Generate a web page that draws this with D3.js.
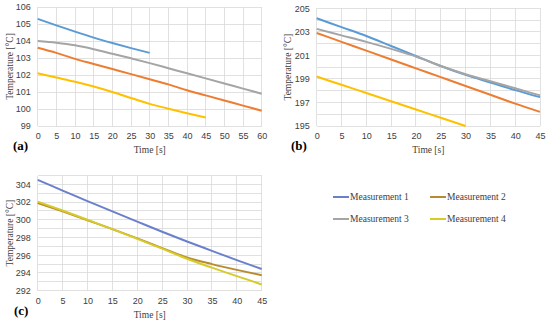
<!DOCTYPE html>
<html>
<head>
<script src="https://d3js.org/d3.v7.min.js"></script>
<style>
  body { margin: 0; background: #fff; }
  svg { font-family: "Liberation Serif", "Times New Roman", serif; }
  .tick text { font-size: 9px; fill: #404040; }
  .grid line { stroke: #d9d9d9; stroke-width: 0.8; shape-rendering: crispEdges; }
  .axis-title { font-size: 9.5px; fill: #404040; }
  .panel-label { font-size: 13px; font-weight: bold; fill: #000; }
  .legend text { font-size: 9.5px; fill: #404040; }
</style>
</head>
<body>
<div id="chart"></div>
<script>
const seriesNames = ["Measurement 1", "Measurement 2", "Measurement 3", "Measurement 4"];

// panel (a)
const timeA = [0, 5, 10, 15, 20, 25, 30, 35, 40, 45, 50, 55, 60];
const a1 = [105.3, 104.92, 104.55, 104.2, 103.88, 103.58, 103.3];
const a2 = [103.6, 103.3, 102.95, 102.65, 102.35, 102.05, 101.75, 101.45, 101.1, 100.8, 100.5, 100.2, 99.9];
const a3 = [104.0, 103.9, 103.75, 103.52, 103.25, 102.98, 102.7, 102.4, 102.1, 101.8, 101.5, 101.2, 100.9];
const a4 = [102.1, 101.85, 101.6, 101.32, 101.0, 100.65, 100.3, 100.02, 99.75, 99.5];

// panel (b)
const timeB = [0, 5, 10, 15, 20, 25, 30, 35, 40, 45];
const b1 = [204.15, 203.4, 202.65, 201.8, 200.95, 200.1, 199.35, 198.7, 198.05, 197.45];
const b2 = [202.9, 202.15, 201.4, 200.65, 199.9, 199.15, 198.4, 197.65, 196.9, 196.2];
const b3 = [203.25, 202.7, 202.15, 201.55, 200.9, 200.1, 199.4, 198.8, 198.2, 197.6];
const b4 = [199.2, 198.5, 197.8, 197.1, 196.4, 195.7, 195.0];

// panel (c)
const timeC = [0, 5, 10, 15, 20, 25, 30, 35, 40, 45];
const c1 = [304.5, 303.3, 302.1, 300.95, 299.8, 298.65, 297.55, 296.5, 295.45, 294.45];
const c2 = [301.9, 300.95, 299.95, 298.95, 297.9, 296.8, 295.75, 295.0, 294.35, 293.75];
const c4 = [302.05, 301.05, 300.0, 298.95, 297.85, 296.75, 295.6, 294.6, 293.65, 292.7];

const ticksA = [99, 100, 101, 102, 103, 104, 105, 106];
const ticksB = [195, 197, 199, 201, 203, 205];
const ticksC = [292, 294, 296, 298, 300, 302, 304];

const colorsAB = ["#5b9bd5", "#ed7d31", "#a5a5a5", "#ffc000"];
const colorsC = ["#6b80cc", "#b98b30", "#a5a5a5", "#d6cb2a"];

const svg = d3.select("#chart").append("svg")
  .attr("width", 550)
  .attr("height", 325);

const panels = [
  { label: "(a)", left: 37.7, top: 7, width: 224, height: 119, xMax: 60, yDomain: [99, 106],
    yTicks: ticksA, time: timeA, series: [a1, a2, a3, a4], colors: colorsAB, labelX: 13, titleX: 10 },
  { label: "(b)", left: 316.7, top: 8.3, width: 223.3, height: 117.7, xMax: 45, yDomain: [195, 205],
    yTicks: ticksB, time: timeB, series: [b1, b2, b3, b4], colors: colorsAB, labelX: 291, titleX: 288 },
  { label: "(c)", left: 37.7, top: 175.5, width: 224, height: 115.2, xMax: 45, yDomain: [292, 305],
    yTicks: ticksC, time: timeC, series: [c1, c2, null, c4], colors: colorsC, labelX: 14, titleX: 10 }
];

panels.forEach(p => {
  const g = svg.append("g").attr("transform", `translate(${p.left},${p.top})`);

  const x = d3.scaleLinear().domain([0, p.xMax]).range([0, p.width]);
  const y = d3.scaleLinear().domain(p.yDomain).range([p.height, 0]);

  // grid, every 5 s and every 1 degree
  const grid = g.append("g").attr("class", "grid");
  grid.selectAll(".v").data(d3.range(0, p.xMax + 1, 5)).enter().append("line")
    .attr("x1", d => x(d)).attr("x2", d => x(d))
    .attr("y1", 0).attr("y2", p.height);
  grid.selectAll(".h").data(d3.range(p.yDomain[0], p.yDomain[1] + 1, 1)).enter().append("line")
    .attr("x1", 0).attr("x2", p.width)
    .attr("y1", d => y(d)).attr("y2", d => y(d));

  // axes
  g.append("g")
    .attr("transform", `translate(0,${p.height})`)
    .call(d3.axisBottom(x).tickValues(d3.range(0, p.xMax + 1, 5)).tickSize(0).tickPadding(7))
    .call(a => a.select(".domain").remove());
  g.append("g")
    .call(d3.axisLeft(y).tickValues(p.yTicks).tickFormat(d3.format("d")).tickSize(0).tickPadding(7))
    .call(a => a.select(".domain").remove());

  // lines
  const line = d3.line()
    .x((d, i) => x(p.time[i]))
    .y(d => y(d))
    .curve(d3.curveMonotoneX);

  p.series.forEach((s, i) => {
    if (!s) return;
    g.append("path")
      .datum(s)
      .attr("fill", "none")
      .attr("stroke", p.colors[i])
      .attr("stroke-width", 2)
      .attr("d", line);
  });

  // titles
  g.append("text")
    .attr("class", "axis-title")
    .attr("text-anchor", "middle")
    .attr("x", p.width / 2)
    .attr("y", p.height + 27)
    .text("Time [s]");

  g.append("text")
    .attr("class", "axis-title")
    .attr("text-anchor", "middle")
    .attr("transform", "rotate(-90)")
    .attr("x", -p.height / 2)
    .attr("y", p.titleX - p.left + 3)
    .text("Temperature [°C]");

  svg.append("text")
    .attr("class", "panel-label")
    .attr("x", p.labelX)
    .attr("y", p.top + p.height + 24)
    .text(p.label);
});

// legend
const legend = svg.append("g").attr("class", "legend");
const legendItems = legend.selectAll("g")
  .data(seriesNames)
  .enter().append("g")
  .attr("transform", (d, i) => `translate(${i % 2 === 0 ? 333 : 430},${i < 2 ? 197 : 219})`);

legendItems.append("line")
  .attr("x1", 0).attr("x2", 16)
  .attr("stroke", (d, i) => colorsC[i])
  .attr("stroke-width", 2);

legendItems.append("text")
  .attr("x", 17)
  .attr("dy", "0.33em")
  .text(d => d);
</script>
</body>
</html>
